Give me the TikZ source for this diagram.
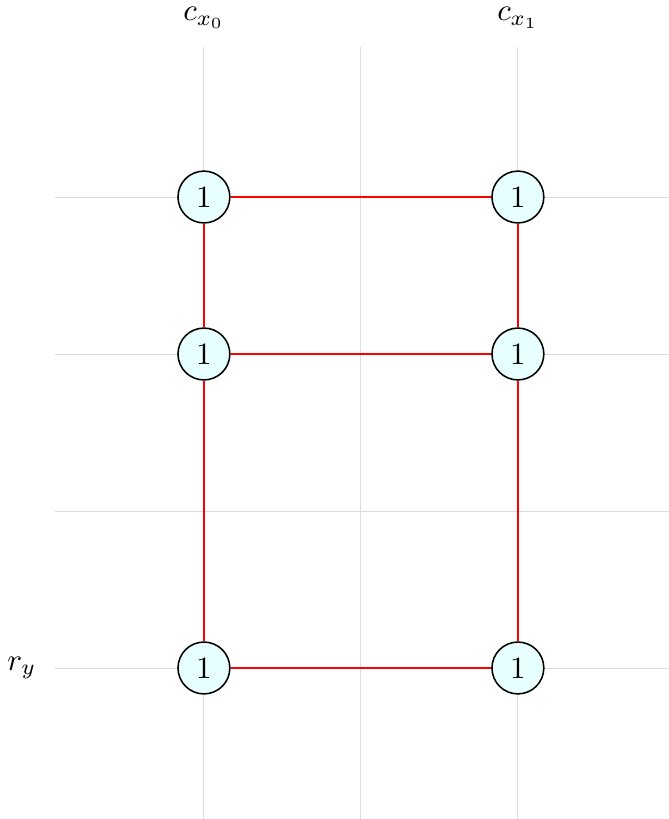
\documentclass[tikz,border=0pt]{standalone}
\usepackage{amsmath,amssymb}
\usetikzlibrary{positioning}
\definecolor{ink}{HTML}{000000}
\definecolor{gridc}{HTML}{DCDCDC}
\definecolor{cell}{HTML}{E8FFFF}
\definecolor{link}{HTML}{FF0000}
\tikzset{
  gl/.style={draw=gridc,line width=.3pt},
  nd/.style={circle,draw=ink,line width=.5pt,fill=cell,minimum size=16.7pt,inner sep=0pt},
  ln/.style={draw=link,line width=.9pt},
  lbl/.style={inner sep=0pt},
}
\begin{document}
\begin{tikzpicture}[x=1.777cm,y=1.777cm]
  \useasboundingbox (-1.299,-0.962) rectangle (2.962,4.255);
  % ── grid ──
  \foreach \i in {0,1,2} \draw[gl] (\i,-0.962) -- (\i,3.955);
  \foreach \j in {0,1,2,3} \draw[gl] (-0.949,\j) -- (2.962,\j);
  % ── labels ──
  \node[lbl] (cx0) at (0,4.14) {$c_{x_0}$};
  \node[lbl] (cx1) at (2,4.14) {$c_{x_1}$};
  \node[lbl] (ry) at (-1.16,0) {$r_y$};
  % ── links ──
  \node[nd] (a3) at (0,3) {1}; \node[nd] (b3) at (2,3) {1};
  \node[nd] (a2) at (0,2) {1}; \node[nd] (b2) at (2,2) {1};
  \node[nd] (a0) at (0,0) {1}; \node[nd] (b0) at (2,0) {1};
  \draw[ln] (a3)--(b3) (a3)--(a2) (b3)--(b2) (a2)--(b2);
  \draw[ln] (a2)--(a0) (b2)--(b0) (a0)--(b0);
\end{tikzpicture}
\end{document}
